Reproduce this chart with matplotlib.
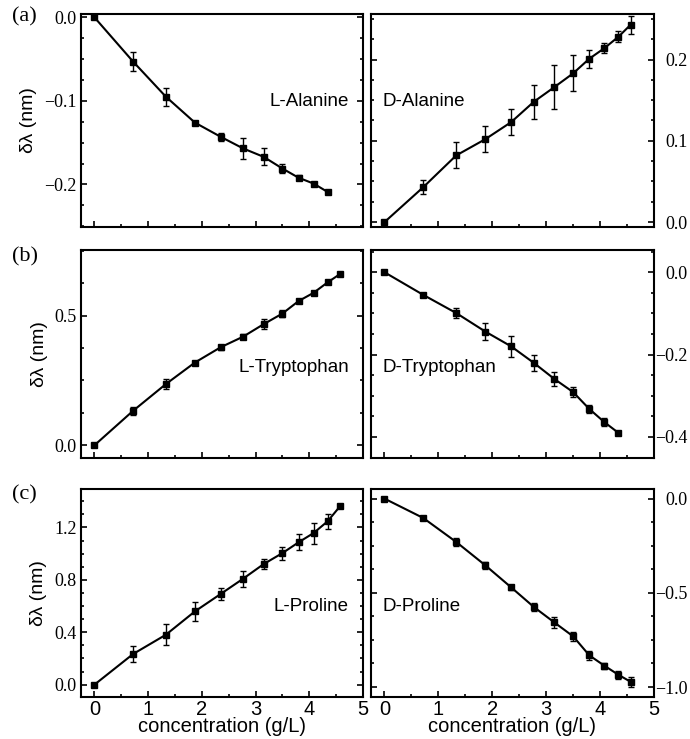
import matplotlib.pyplot as plt
from matplotlib.ticker import MultipleLocator, FuncFormatter

# concentrations (g/L)
conc_12 = [0, 0.72, 1.33, 1.87, 2.35, 2.77, 3.15, 3.5, 3.8, 4.08, 4.34, 4.57]
conc_11 = conc_12[:11]

# wavelength shifts (nm) and error bars
l_ala = [0, -0.053, -0.095, -0.126, -0.143, -0.157, -0.167, -0.181, -0.192, -0.199, -0.209]
l_ala_err = [0.002, 0.011, 0.011, 0.002, 0.005, 0.012, 0.010, 0.005, 0.003, 0.002, 0.001]
d_ala = [0, 0.043, 0.082, 0.102, 0.123, 0.148, 0.166, 0.183, 0.201, 0.214, 0.228, 0.243]
d_ala_err = [0.002, 0.009, 0.016, 0.016, 0.016, 0.021, 0.027, 0.022, 0.011, 0.006, 0.007, 0.011]

l_trp = [0, 0.133, 0.236, 0.319, 0.378, 0.419, 0.467, 0.508, 0.556, 0.588, 0.628, 0.660]
l_trp_err = [0.005, 0.015, 0.02, 0.007, 0.01, 0.01, 0.02, 0.015, 0.005, 0.005, 0.005, 0.004]
d_trp = [0, -0.055, -0.099, -0.144, -0.180, -0.220, -0.259, -0.291, -0.332, -0.364, -0.390]
d_trp_err = [0.003, 0.004, 0.013, 0.02, 0.025, 0.02, 0.018, 0.013, 0.01, 0.01, 0.003]

l_pro = [0, 0.234, 0.381, 0.559, 0.692, 0.809, 0.920, 1.004, 1.086, 1.157, 1.246, 1.360]
l_pro_err = [0.01, 0.06, 0.08, 0.07, 0.045, 0.06, 0.04, 0.05, 0.06, 0.08, 0.06, 0.01]
d_pro = [0, -0.103, -0.230, -0.354, -0.471, -0.575, -0.657, -0.731, -0.832, -0.887, -0.935, -0.973]
d_pro_err = [0.005, 0.008, 0.02, 0.02, 0.015, 0.02, 0.03, 0.025, 0.025, 0.015, 0.02, 0.025]

panels = [
    # (x, y, err, name, ylim, major, minor)
    [(conc_11, l_ala, l_ala_err, 'L-Alanine', (-0.251, 0.004), 0.1, 0.025),
     (conc_12, d_ala, d_ala_err, 'D-Alanine', (-0.006, 0.256), 0.1, 0.025)],
    [(conc_12, l_trp, l_trp_err, 'L-Tryptophan', (-0.049, 0.753), 0.5, 0.125),
     (conc_11, d_trp, d_trp_err, 'D-Tryptophan', (-0.451, 0.054), 0.2, 0.05)],
    [(conc_12, l_pro, l_pro_err, 'L-Proline', (-0.094, 1.493), 0.4, 0.1),
     (conc_12, d_pro, d_pro_err, 'D-Proline', (-1.053, 0.051), 0.5, 0.125)],
]
row_labels = ['(a)', '(b)', '(c)']

serif = 'Liberation Serif'
sans = 'Liberation Sans'

minus_fmt = FuncFormatter(lambda v, pos: ('%.1f' % v).replace('-', '\u2212'))

fig = plt.figure(figsize=(6.9, 7.39), dpi=100)
W, H = 690, 739
cols = [(81, 363), (371, 654)]
rows = [(14, 227), (250, 458), (489, 697)]

for r, (top, bot) in enumerate(rows):
    for c, (left, right) in enumerate(cols):
        ax = fig.add_axes([left / W, 1 - bot / H, (right - left) / W, (bot - top) / H])
        x, y, err, name, ylim, major, minor = panels[r][c]
        ax.errorbar(x, y, yerr=err, color='black', marker='s', markersize=4.8,
                    linewidth=1.5, elinewidth=1.0, capsize=2.2, capthick=1.0)
        ax.set_xlim(-0.25, 5.0)
        ax.set_ylim(*ylim)
        ax.xaxis.set_major_locator(MultipleLocator(1))
        ax.xaxis.set_minor_locator(MultipleLocator(0.5))
        ax.yaxis.set_major_locator(MultipleLocator(major))
        ax.yaxis.set_minor_locator(MultipleLocator(minor))
        ax.yaxis.set_major_formatter(minus_fmt)
        for s in ax.spines.values():
            s.set_linewidth(1.5)
        ax.tick_params(which='both', direction='in', top=False, left=True, right=True, width=1.2)
        ax.tick_params(which='major', length=4)
        ax.tick_params(which='minor', length=2.5)
        ax.tick_params(axis='x', labelsize=14.5, pad=2)
        for lab in ax.get_xticklabels():
            lab.set_family(sans)
        ax.tick_params(axis='y', labelsize=13)
        if c == 1:
            ax.tick_params(axis='y', labelleft=False, labelright=True, pad=24)
            for lab in ax.get_yticklabels(which='major'):
                lab.set_horizontalalignment('right')
        else:
            ax.tick_params(axis='y', pad=3)
        for lab in ax.get_yticklabels():
            lab.set_family(serif)
        if r < 2:
            ax.tick_params(axis='x', labelbottom=False)
        else:
            ax.set_xlabel('concentration (g/L)', family=sans, fontsize=14.5, labelpad=-1)
        ty = 0.59 if r == 0 else 0.433
        if c == 0:
            ax.set_ylabel('δλ (nm)', family=sans, fontsize=14, labelpad=5)
            ax.text(0.95, ty, name, transform=ax.transAxes,
                    ha='right', va='center', family=sans, fontsize=13.5)
        else:
            ax.text(0.042, ty, name, transform=ax.transAxes,
                    ha='left', va='center', family=sans, fontsize=13.5)

label_y = [17, 257, 495]
for lab, yy in zip(row_labels, label_y):
    fig.text(12 / W, 1 - yy / H, lab, family=serif, fontsize=16, ha='left', va='center')

fig.savefig('out.png', dpi=100)
